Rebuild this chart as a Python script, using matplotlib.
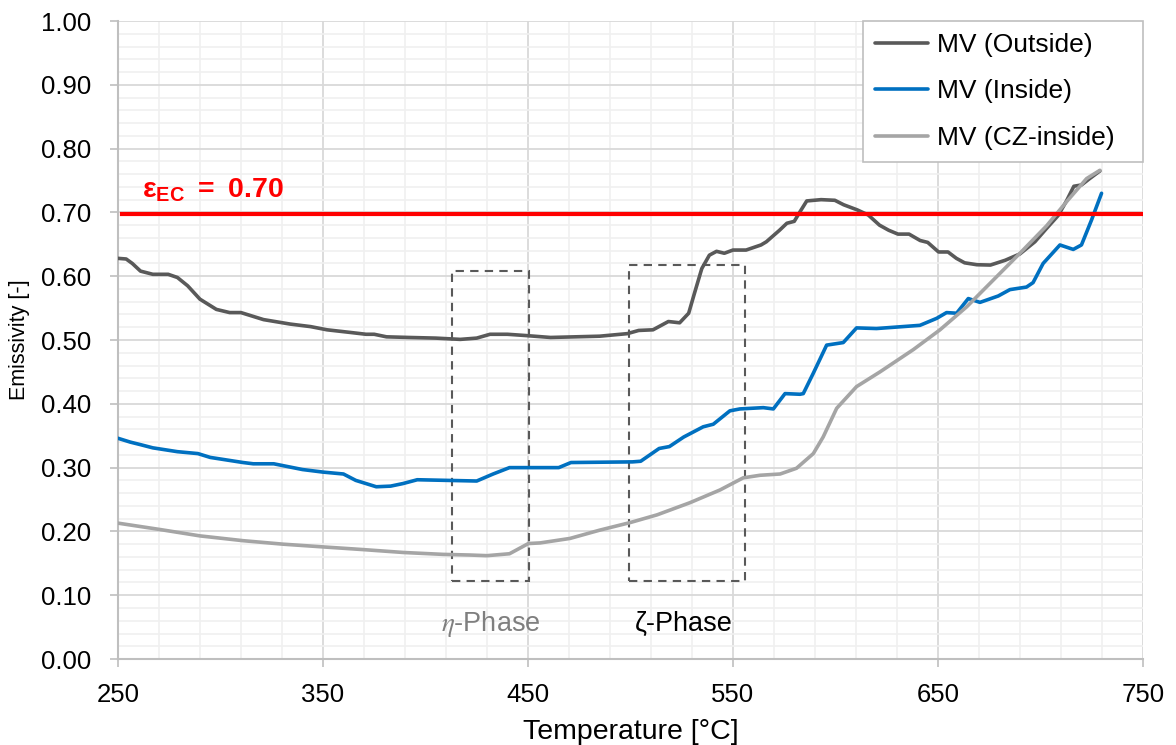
import matplotlib
matplotlib.use("Agg")
import matplotlib.pyplot as plt
from matplotlib.patches import Rectangle
from matplotlib.ticker import FormatStrFormatter

plt.rcParams['font.family'] = ['Liberation Sans', 'DejaVu Sans']
plt.rcParams['mathtext.fontset'] = 'custom'
plt.rcParams['mathtext.rm'] = 'Liberation Sans'
plt.rcParams['mathtext.bf'] = 'Liberation Sans:bold'

# ---- data ----
t_outside = [250, 254, 257, 261, 267, 274.5, 279, 284, 290, 298,
             304.5, 310, 321, 334, 344, 352, 363, 371, 375, 381,
             392, 405, 417, 425, 431.5, 440, 449, 461, 485, 498.5,
             504, 511, 518.5, 524, 528.4, 531.2, 534.8, 538.5, 542, 545.8,
             550, 556.4, 563.7, 566.3, 572.7, 576.3, 579.9, 582.7, 586, 593,
             599.7, 604, 610.6, 616, 621.5, 626, 630.5, 635.9, 641.3, 645,
             650.3, 654.9, 659, 663, 669, 675.6, 682.8, 690, 697.3, 703,
             708.6, 712.7, 716.3, 720, 724, 729]
e_outside = [0.628, 0.627, 0.620, 0.608, 0.603, 0.603, 0.598, 0.585, 0.564, 0.548,
             0.543, 0.543, 0.532, 0.525, 0.521, 0.516, 0.512, 0.509, 0.509, 0.505,
             0.504, 0.503, 0.501, 0.503, 0.509, 0.509, 0.507, 0.504, 0.506, 0.510,
             0.515, 0.516, 0.529, 0.527, 0.542, 0.573, 0.612, 0.633, 0.639, 0.636,
             0.641, 0.641, 0.649, 0.654, 0.672, 0.683, 0.686, 0.701, 0.718, 0.720,
             0.719, 0.712, 0.704, 0.696, 0.680, 0.672, 0.666, 0.666, 0.656, 0.653,
             0.638, 0.638, 0.628, 0.621, 0.618, 0.6175, 0.625, 0.635, 0.654, 0.675,
             0.695, 0.718, 0.741, 0.743, 0.753, 0.765]

t_inside = [250, 256, 261, 267, 279, 289, 295, 311, 316, 326,
            340, 350, 360, 366, 376, 383, 389, 396, 425, 433,
            441, 465, 471, 501, 505, 514, 519, 526, 535.5, 540.4,
            548.5, 553.4, 564.8, 569.7, 575.4, 582.7, 584.3, 589.2, 595.7, 603.8,
            610.3, 620, 641.2, 649.4, 654.2, 659.1, 664.8, 670.5, 679.4, 685.1,
            693.2, 696.4, 701.3, 709.5, 716, 720, 724.9, 729.8]
e_inside = [0.346, 0.340, 0.336, 0.331, 0.325, 0.322, 0.316, 0.308, 0.306, 0.306,
            0.297, 0.293, 0.290, 0.280, 0.270, 0.271, 0.275, 0.281, 0.279, 0.290,
            0.300, 0.300, 0.308, 0.309, 0.310, 0.330, 0.333, 0.348, 0.364, 0.368,
            0.389, 0.392, 0.394, 0.392, 0.416, 0.415, 0.416, 0.448, 0.492, 0.496,
            0.519, 0.518, 0.523, 0.534, 0.543, 0.542, 0.565, 0.559, 0.569, 0.579,
            0.583, 0.590, 0.620, 0.649, 0.642, 0.649, 0.688, 0.730]

t_cz = [250, 270.5, 290, 311, 330.6, 350.2, 369.7, 389.2, 408.7, 421.7,
        430, 441, 450.2, 456, 470.5, 485, 500, 513, 529, 543.7,
        555, 563.2, 573, 581, 589.2, 594, 600.6, 610.3, 621.7, 638,
        651, 664, 677, 690, 703, 712.8, 722.5, 729]
e_cz = [0.213, 0.203, 0.193, 0.1855, 0.180, 0.1757, 0.1715, 0.167, 0.164, 0.163,
        0.162, 0.165, 0.181, 0.182, 0.189, 0.202, 0.214, 0.226, 0.245, 0.265,
        0.284, 0.288, 0.290, 0.299, 0.322, 0.348, 0.393, 0.427, 0.450, 0.485,
        0.516, 0.552, 0.594, 0.636, 0.679, 0.717, 0.753, 0.766]

eps_ec = 0.697
labels = ["MV (Outside)", "MV (Inside)", "MV (CZ-inside)"]
colors = ["#595959", "#0070C0", "#A5A5A5"]
x_major = [250, 350, 450, 550, 650, 750]
x_minor = list(range(250, 751, 20))
y_major = [0.0, 0.1, 0.2, 0.3, 0.4, 0.5, 0.6, 0.7, 0.8, 0.9, 1.0]
y_minor = [i / 50 for i in range(0, 51)]
eta_box = (413, 450.5, 0.122, 0.608)
zeta_box = (499.5, 556, 0.122, 0.618)

# ---- figure ----
fig = plt.figure(figsize=(11.76, 7.45), dpi=100)
ax = fig.add_axes([0.1003, 0.1154, 0.8716, 0.8564])

ax.set_xlim(250, 750)
ax.set_ylim(0, 1.0)
ax.set_xticks(x_major)
ax.set_xticks(x_minor, minor=True)
ax.set_yticks(y_major)
ax.set_yticks(y_minor, minor=True)
ax.yaxis.set_major_formatter(FormatStrFormatter('%.2f'))

ax.grid(which='minor', color='#F0F0F0', lw=1.2, zorder=0)
ax.grid(which='major', color='#D9D9D9', lw=1.3, zorder=0)
ax.set_axisbelow(True)
for s in ['top', 'right']:
    ax.spines[s].set_visible(False)
for s in ['left', 'bottom']:
    ax.spines[s].set_color('#BFBFBF')
    ax.spines[s].set_linewidth(1.5)
ax.tick_params(which='major', length=6, color='#BFBFBF', width=1.2, labelsize=18.5)
ax.tick_params(axis='y', which='major', pad=13)
ax.tick_params(axis='x', which='major', pad=11)
ax.tick_params(which='minor', length=0)

for t, e, lab, c in zip([t_outside, t_inside, t_cz], [e_outside, e_inside, e_cz], labels, colors):
    ax.plot(t, e, color=c, lw=2.6, label=lab, solid_joinstyle='round', solid_capstyle='round', zorder=3)

ax.axhline(eps_ec, xmin=0.004, xmax=1.0, color='#FF0000', lw=3, zorder=4)
ax.text(261.5, 0.7226, r"$\mathbf{\epsilon_{EC}\;=\;0.70}$", color='#FF0000', fontsize=20.5,
        ha='left', va='baseline', zorder=5)

for (x0, x1, y0, y1) in [eta_box, zeta_box]:
    ax.add_patch(Rectangle((x0, y0), x1 - x0, y1 - y0, fill=False, ls=(0, (4, 3)),
                           ec='#595959', lw=1.5, zorder=2))

ax.text(432, 0.044, r"$\eta$-Phase", color='#7F7F7F', fontsize=19.5, ha='center', va='baseline',
        math_fontfamily='stix')
ax.text(526, 0.044, "ζ-Phase", color='#000000', fontsize=19.5, ha='center', va='baseline')

ax.set_xlabel("Temperature [°C]", fontsize=20.5, labelpad=9)
ax.set_ylabel("Emissivity [-]", fontsize=15.5, labelpad=8)

leg = ax.legend(loc='upper right', fontsize=19, frameon=True, fancybox=False,
                edgecolor='#BFBFBF', framealpha=1, handlelength=2.0, labelspacing=0.85,
                borderpad=0.45, handletextpad=0.34, borderaxespad=0, mode='expand',
                bbox_to_anchor=(0.7268, 0.0, 0.2732, 1.0))
leg.get_frame().set_linewidth(1.2)

fig.savefig("out.png", dpi=100)
